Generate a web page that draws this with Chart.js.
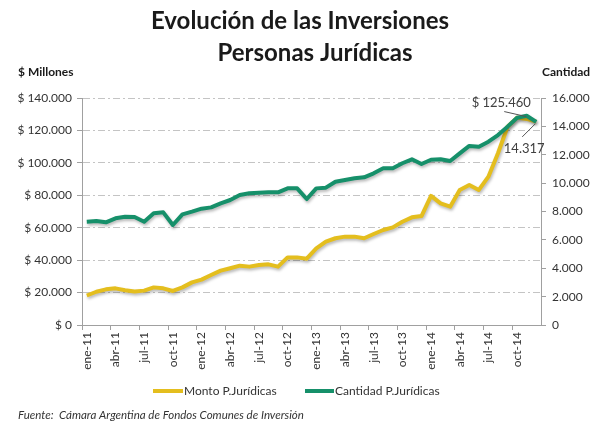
<!DOCTYPE html>
<html>
<head>
<meta charset="utf-8">
<script src="https://cdn.jsdelivr.net/npm/chart.js@4/dist/chart.umd.min.js"></script>
<style>
  html, body { margin: 0; padding: 0; background: #ffffff; }
  #wrap { width: 602px; height: 423px; }
</style>
</head>
<body>
<div id="wrap"><canvas id="c" width="602" height="423"></canvas></div>
<script>
// ---- Data ----
const monthNames = ['ene','feb','mar','abr','may','jun','jul','ago','sep','oct','nov','dic'];
const years = ['11','12','13','14'];
const categories = years.flatMap(y => monthNames.map(m => m + '-' + y));

// Monto P.Jurídicas ($ millones)
const monto = [
  18200, 20500, 22000, 22600, 21400, 20600, 21200, 23200, 22600, 21000, 23200, 26300,
  28000, 30800, 33500, 35000, 36600, 36000, 37000, 37400, 36000, 41700, 41700, 40900,
  47300, 51400, 53500, 54500, 54500, 53500, 56100, 58600, 60200, 63700, 66400, 67200,
  79600, 75000, 73000, 83300, 86400, 83300, 91500, 105900, 122300, 127900, 127100, 125460
];
// Cantidad P.Jurídicas
const cantidad = [
  7280, 7330, 7240, 7520, 7630, 7610, 7280, 7870, 7940, 7050, 7800, 7990,
  8200, 8290, 8575, 8810, 9160, 9280, 9330, 9350, 9350, 9630, 9630, 8880,
  9630, 9680, 10100, 10220, 10340, 10410, 10690, 11045, 11045, 11400, 11680, 11350,
  11650, 11680, 11560, 12100, 12620, 12570, 12920, 13390, 13980, 14610, 14750, 14317
];
const leftTicks = { min: 0, max: 140000, step: 20000 };
const rightTicks = { min: 0, max: 16000, step: 2000 };

const titleLines = ['Evolución de las Inversiones', 'Personas Jurídicas'];
const leftAxisTitle = '$ Millones';
const rightAxisTitle = 'Cantidad';
const seriesNames = ['Monto P.Jurídicas', 'Cantidad P.Jurídicas'];
const sourceText = 'Fuente:  Cámara Argentina de Fondos Comunes de Inversión';

// ---- Styles ----
const YELLOW = '#E4BE1E';
const GREEN = '#16906A';
const TEXT = '#333333';
const FONT = 'Lato, "Open Sans", sans-serif';

function fmt(v) {
  return String(Math.round(v)).replace(/\B(?=(\d{3})+(?!\d))/g, '.');
}

const decor = {
  id: 'decor',
  beforeDatasetsDraw(chart) {
    const c = chart.ctx;
    c.save();
    c.shadowColor = 'rgba(0,0,0,0.28)';
    c.shadowBlur = 3;
    c.shadowOffsetX = 1;
    c.shadowOffsetY = 2;
  },
  afterDatasetsDraw(chart) {
    chart.ctx.restore();
  },
  afterDraw(chart) {
    const c = chart.ctx;
    c.save();
    c.fillStyle = '#1a1a1a';
    c.textAlign = 'center';
    c.textBaseline = 'middle';
    c.font = 'bold 24px ' + FONT;
    c.fillText(titleLines[0], 300, 21);
    c.fillText(titleLines[1], 315, 53);

    c.font = 'bold 12px ' + FONT;
    c.textAlign = 'left';
    c.fillText(leftAxisTitle, 18, 72);
    c.fillText(rightAxisTitle, 542, 72);

    // Legend
    c.font = '12px ' + FONT;
    c.fillStyle = TEXT;
    const ly = 391;
    c.lineWidth = 4;
    c.strokeStyle = YELLOW;
    c.beginPath(); c.moveTo(153, ly); c.lineTo(183, ly); c.stroke();
    c.fillText(seriesNames[0], 184, ly);
    c.strokeStyle = GREEN;
    c.beginPath(); c.moveTo(305, ly); c.lineTo(334, ly); c.stroke();
    c.fillText(seriesNames[1], 335, ly);

    // Source
    c.font = 'italic 11.5px ' + FONT;
    c.fillStyle = '#333';
    c.fillText(sourceText, 18, 415);

    // Annotations of last values
    const mMeta = chart.getDatasetMeta(1);
    const cMeta = chart.getDatasetMeta(0);
    const pm = mMeta.data[mMeta.data.length - 1];
    const pc = cMeta.data[cMeta.data.length - 1];
    c.font = '13px ' + FONT;
    c.fillStyle = '#404040';
    c.textAlign = 'center';
    c.fillText('$ ' + fmt(monto[monto.length - 1]), pm.x - 35, pm.y - 19);
    c.fillText(fmt(cantidad[cantidad.length - 1]), pc.x - 12, pc.y + 27);
    c.strokeStyle = '#555';
    c.lineWidth = 1;
    c.beginPath();
    c.moveTo(pm.x - 32, pm.y - 10);
    c.lineTo(pm.x - 10, pm.y - 5);
    c.moveTo(pc.x - 14, pc.y + 15);
    c.lineTo(pc.x - 1, pc.y + 2);
    c.stroke();
    c.restore();
  }
};

new Chart(document.getElementById('c'), {
  type: 'line',
  data: {
    labels: categories,
    datasets: [
      { label: seriesNames[1], data: cantidad, yAxisID: 'y1', borderColor: GREEN, backgroundColor: GREEN,
        borderWidth: 4, pointRadius: 0, tension: 0, order: 0, borderJoinStyle: 'round' },
      { label: seriesNames[0], data: monto, yAxisID: 'y', borderColor: YELLOW, backgroundColor: YELLOW,
        borderWidth: 4, pointRadius: 0, tension: 0, order: 1, borderJoinStyle: 'round' }
    ]
  },
  options: {
    responsive: false,
    animation: false,
    events: [],
    layout: { padding: { top: 98, bottom: 0, left: 0, right: 0 } },
    plugins: { legend: { display: false }, tooltip: { enabled: false }, title: { display: false } },
    scales: {
      x: {
        offset: true,
        grid: { offset: true, drawOnChartArea: false, tickLength: 5,
                color: (ctx) => (ctx.index % 3 === 0 ? '#a0a0a0' : 'rgba(0,0,0,0)') },
        border: { color: '#a0a0a0', width: 1 },
        ticks: { autoSkip: false, maxRotation: 90, minRotation: 90, padding: 2,
                 color: TEXT, font: { family: FONT, size: 12 },
                 callback: (v, i) => (i % 3 === 0 ? categories[i] : '') },
        afterFit: (s) => { s.height = 98; }
      },
      y: {
        position: 'left',
        min: leftTicks.min, max: leftTicks.max,
        ticks: { stepSize: leftTicks.step, padding: 5, color: TEXT, font: { family: FONT, size: 12 },
                 callback: (v) => '$ ' + fmt(v) },
        grid: { color: '#c4c4c4', lineWidth: 1, tickLength: 5, tickColor: '#a0a0a0', tickBorderDash: [] },
        border: { color: '#a0a0a0', width: 1, dash: [7, 3, 2, 3] },
        afterFit: (s) => { s.width = 82; }
      },
      y1: {
        position: 'right',
        min: rightTicks.min, max: rightTicks.max,
        ticks: { stepSize: rightTicks.step, padding: 6, color: TEXT, font: { family: FONT, size: 12 },
                 callback: (v) => fmt(v) },
        grid: { drawOnChartArea: false, tickLength: 5, color: '#a0a0a0' },
        border: { color: '#a0a0a0', width: 1 },
        afterFit: (s) => { s.width = 61; }
      }
    }
  },
  plugins: [decor]
});
</script>
</body>
</html>
